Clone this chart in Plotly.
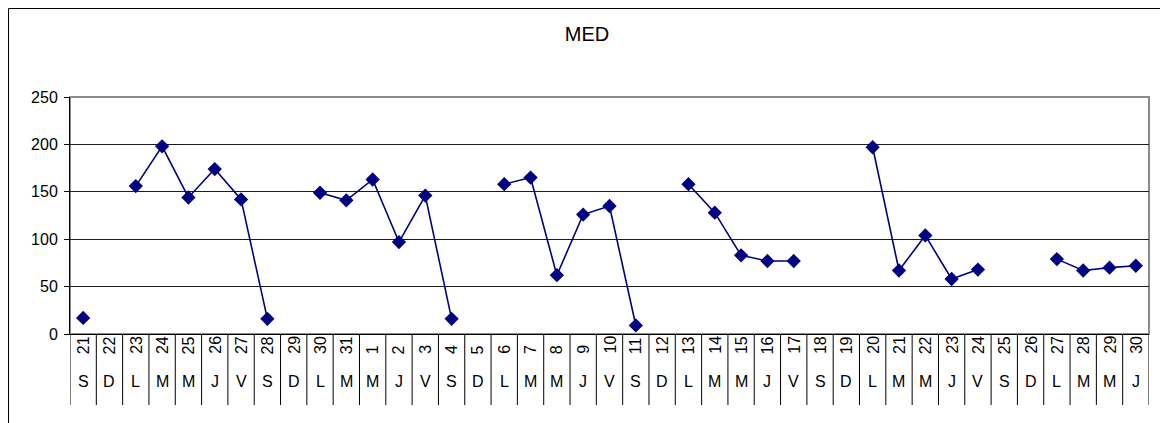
import plotly.graph_objects as go

# categories: day of month and weekday initial
days = ["21", "22", "23", "24", "25", "26", "27", "28", "29", "30", "31",
        "1", "2", "3", "4", "5", "6", "7", "8", "9", "10", "11", "12", "13",
        "14", "15", "16", "17", "18", "19", "20", "21", "22", "23", "24",
        "25", "26", "27", "28", "29", "30"]
weekdays = ["S", "D", "L", "M", "M", "J", "V", "S", "D", "L", "M",
            "M", "J", "V", "S", "D", "L", "M", "M", "J", "V", "S", "D", "L",
            "M", "M", "J", "V", "S", "D", "L", "M", "M", "J", "V",
            "S", "D", "L", "M", "M", "J"]
med = [17, None, 156, 198, 144, 174, 142, 16, None, 149, 141,
       163, 97, 146, 16, None, 158, 165, 62, 126, 135, 9, None, 158,
       128, 83, 77, 77, None, None, 197, 67, 104, 58, 68,
       None, None, 79, 67, 70, 72]

# the page body has an 8px margin, so the figure is offset by it
OFF = 8
W, H = 1168 - OFF, 423 - OFF
PL, PR, PT, PB = 70 - OFF, 1149 - OFF, 97 - OFF, 334 - OFF   # plot area
pw, ph = PR - PL, PB - PT


def px_x(x):
    return (x - OFF - PL) / pw


def px_y(y):
    return (PB - (y - OFF)) / ph


FONT = "Liberation Sans, Arial, sans-serif"
idx = list(range(len(days)))

fig = go.Figure()
fig.add_trace(go.Scatter(
    x=idx, y=med, mode="lines+markers", connectgaps=False,
    line={"color": "#000080", "width": 1.6},
    marker={"symbol": "diamond", "size": 11, "color": "#000080"},
    showlegend=False, cliponaxis=False,
))

shapes = [
    # outer chart border
    {"type": "rect", "xref": "paper", "yref": "paper",
     "x0": px_x(8.5), "x1": px_x(1165), "y0": px_y(440), "y1": px_y(8.5),
     "line": {"color": "#000000", "width": 1}, "layer": "below"},
    # plot area frame (gray top / right)
    {"type": "rect", "xref": "paper", "yref": "paper",
     "x0": 0, "x1": 1, "y0": 0, "y1": 1,
     "line": {"color": "#8c8c8c", "width": 2}, "layer": "below"},
]
for i in range(len(days) + 1):
    shapes.append({"type": "line", "xref": "x", "yref": "paper",
                   "x0": i - 0.5, "x1": i - 0.5, "y0": 0, "y1": px_y(405),
                   "line": {"color": "#000000", "width": 1}})

annotations = []
for i, (d, w) in enumerate(zip(days, weekdays)):
    annotations.append({"x": i, "y": px_y(356), "xref": "x", "yref": "paper",
                        "text": d, "textangle": -90, "showarrow": False,
                        "font": {"size": 16, "color": "#000000", "family": FONT}})
    annotations.append({"x": i, "y": px_y(392), "xref": "x", "yref": "paper",
                        "text": w, "showarrow": False,
                        "font": {"size": 16, "color": "#000000", "family": FONT}})

fig.update_layout(
    width=W, height=H,
    margin={"l": PL, "r": W - PR, "t": PT, "b": H - PB},
    paper_bgcolor="#ffffff", plot_bgcolor="#ffffff",
    font={"family": FONT, "color": "#000000", "size": 16},
    title={"text": "MED", "x": (587 - OFF) / W, "xanchor": "center",
           "y": 1 - (34 - OFF) / H, "yanchor": "middle",
           "font": {"size": 20, "family": FONT}},
    shapes=shapes, annotations=annotations,
    xaxis={"range": [-0.5, len(days) - 0.5], "showticklabels": False,
           "showgrid": False, "zeroline": False, "showline": True,
           "linecolor": "#000000", "linewidth": 1, "ticks": ""},
    yaxis={"range": [0, 250], "dtick": 50, "showgrid": True,
           "gridcolor": "#1a1a1a", "gridwidth": 1, "zeroline": False,
           "showline": True, "linecolor": "#000000", "linewidth": 1,
           "ticks": "outside", "ticklen": 5, "tickcolor": "#000000",
           "ticklabelstandoff": 3,
           "tickfont": {"size": 16, "family": FONT}},
)

fig.write_html("out.html")
